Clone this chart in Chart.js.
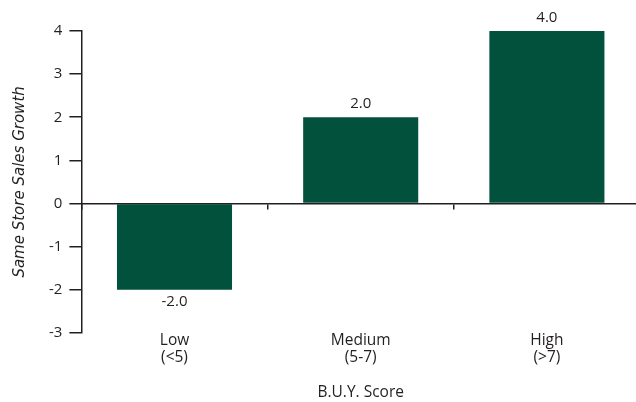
<!DOCTYPE html>
<html lang="en">
<head>
  <meta charset="UTF-8" />
  <title>B.U.Y. Score</title>
  <script src="https://cdn.jsdelivr.net/npm/chart.js"></script>
  <style>
    html, body { margin:0; padding:0; background:#fff; overflow:hidden; }
    /* plot runs slightly past the right edge, as in the original */
    #wrap { width:640px; height:402px; }
  </style>
</head>
<body>
  <div id="wrap"><canvas id="chart"></canvas></div>

  <script>
    const categories = [['Low', '(<5)'], ['Medium', '(5-7)'], ['High', '(>7)']];
    const growth = [-2.0, 2.0, 4.0];
    const yTicks = [-3, -2, -1, 0, 1, 2, 3, 4];

    const INK = '#231f20';
    const GREEN = '#02513d';
    const FONT = "'Open Sans', sans-serif";

    // value labels above / below each bar
    const valueLabels = {
      id: 'valueLabels',
      afterDatasetsDraw(chart) {
        const ctx = chart.ctx;
        const meta = chart.getDatasetMeta(0);
        ctx.save();
        ctx.font = '15px ' + FONT;
        ctx.fillStyle = INK;
        ctx.textAlign = 'center';
        meta.data.forEach((bar, i) => {
          const v = growth[i];
          if (v >= 0) {
            ctx.textBaseline = 'bottom';
            ctx.fillText(v.toFixed(1), bar.x, bar.y - 6);
          } else {
            ctx.textBaseline = 'top';
            ctx.fillText(v.toFixed(1), bar.x, bar.y + 5);
          }
        });
        ctx.restore();
      }
    };

    new Chart(document.getElementById('chart'), {
      type: 'bar',
      data: {
        labels: categories,
        datasets: [{
          data: growth,
          backgroundColor: GREEN,
          borderWidth: 0,
          barPercentage: 0.618,
          categoryPercentage: 1
        }]
      },
      options: {
        responsive: true,
        maintainAspectRatio: false,
        animation: false,
        layout: { padding: { top: 31, right: 0, left: 7, bottom: 0 } },
        plugins: { legend: { display: false }, tooltip: { enabled: false } },
        scales: {
          x: {
            position: 'bottom',
            grid: { display: false, drawTicks: false },
            border: { display: false },
            ticks: { color: INK, font: { family: FONT, size: 15.5, lineHeight: 1.05 }, padding: 0 },
            title: { display: true, text: 'B.U.Y. Score', color: INK, font: { family: FONT, size: 15.5 }, padding: { top: 18, bottom: 0 } }
          },
          x0: {
            type: 'category',
            position: { y: 0 },
            offset: true,
            grid: { offset: true, drawOnChartArea: false, drawTicks: true, tickLength: 5, color: INK, lineWidth: 1.5 },
            border: { display: true, color: INK, width: 1.5 },
            ticks: { display: false }
          },
          y: {
            min: -3,
            max: 4,
            afterBuildTicks: axis => { axis.ticks = yTicks.map(v => ({ value: v })); },
            grid: { drawOnChartArea: false, drawTicks: true, tickLength: 12, color: INK, lineWidth: 1.5 },
            border: { display: true, color: INK, width: 1.5 },
            ticks: { color: INK, font: { family: FONT, size: 15 }, padding: 7 },
            title: { display: true, text: 'Same Store Sales Growth', color: INK, font: { family: "'DejaVu Sans', sans-serif", size: 15, style: 'italic' }, padding: { bottom: 13 } }
          }
        }
      },
      plugins: [valueLabels]
    });
  </script>
</body>
</html>
